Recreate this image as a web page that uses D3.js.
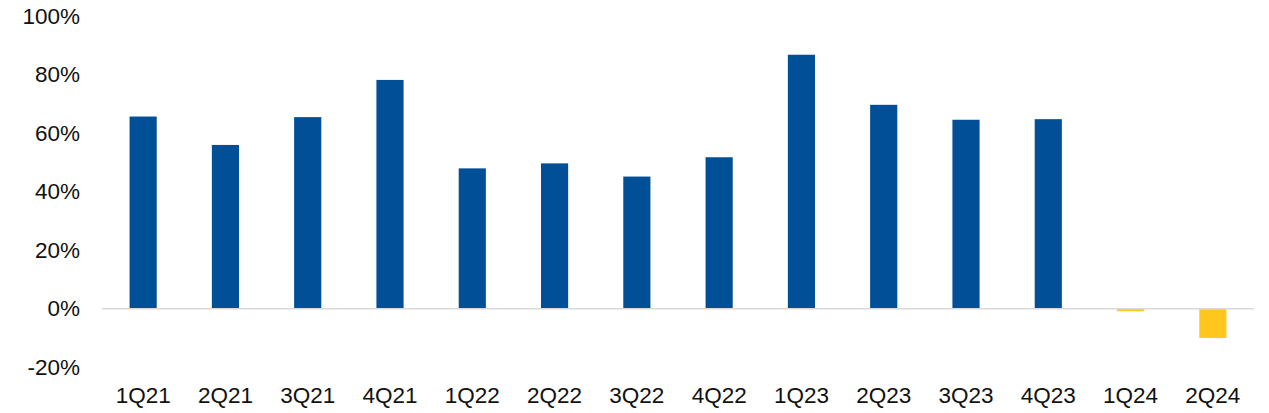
<!DOCTYPE html>
<html>
<head>
<meta charset="utf-8">
<script src="https://cdn.jsdelivr.net/npm/d3@7"></script>
<style>
  html, body { margin: 0; padding: 0; background: #fff; }
  svg { display: block; font-family: 'Liberation Sans', Arial, sans-serif; }
</style>
</head>
<body>
<div id="chart"></div>
<script>
// data
const quarters = ['1Q21', '2Q21', '3Q21', '4Q21', '1Q22', '2Q22', '3Q22', '4Q22',
  '1Q23', '2Q23', '3Q23', '4Q23', '1Q24', '2Q24'];
const values = [65.6, 55.9, 65.4, 78.1, 47.9, 49.6, 45.1, 51.7,
  86.7, 69.6, 64.5, 64.7, -0.9, -10.0];
const yTicks = [-20, 0, 20, 40, 60, 80, 100];

const width = 1269;
const height = 413;

// plot area
const x0 = 102;
const x1 = 1254;

const scaleX = d3.scaleBand()
  .domain(quarters)
  .range([x0, x1])
  .paddingInner(0.67)
  .paddingOuter(0.335);

const scaleY = d3.scaleLinear()
  .domain([-20, 100])
  .range([367.2, 15.8]);

const $svg = d3.select('#chart').append('svg')
  .attr('width', width)
  .attr('height', height);

// y labels (no axis line)
const $yAxis = $svg.append('g')
  .attr('transform', `translate(${x0}, 0)`)
  .call(d3.axisLeft(scaleY).tickValues(yTicks).tickFormat(d => `${d}%`).tickSize(0).tickPadding(22));
$yAxis.select('.domain').remove();
$yAxis.selectAll('text')
  .attr('font-size', 22.5)
  .attr('font-family', "'Liberation Sans', Arial, sans-serif")
  .attr('fill', '#111');

// bars
$svg.append('g').selectAll('rect')
  .data(quarters.map((q, i) => ({ q, v: values[i] })))
  .join('rect')
  .attr('x', d => scaleX(d.q))
  .attr('width', scaleX.bandwidth())
  .attr('y', d => scaleY(Math.max(0, d.v)))
  .attr('height', d => Math.abs(scaleY(d.v) - scaleY(0)))
  .attr('fill', d => (d.v < 0 ? '#FFC61E' : '#004F97'));

// zero line
$svg.append('line')
  .attr('x1', x0)
  .attr('x2', x1)
  .attr('y1', scaleY(0))
  .attr('y2', scaleY(0))
  .attr('stroke', '#d9d9d9')
  .attr('stroke-width', 1.5);

// x labels
const $xAxis = $svg.append('g')
  .attr('transform', 'translate(0, 387)')
  .call(d3.axisBottom(scaleX).tickSize(0).tickPadding(0));
$xAxis.select('.domain').remove();
$xAxis.selectAll('text')
  .attr('font-size', 22.5)
  .attr('font-family', "'Liberation Sans', Arial, sans-serif")
  .attr('fill', '#111')
  .attr('dy', '0.71em');
</script>
</body>
</html>
